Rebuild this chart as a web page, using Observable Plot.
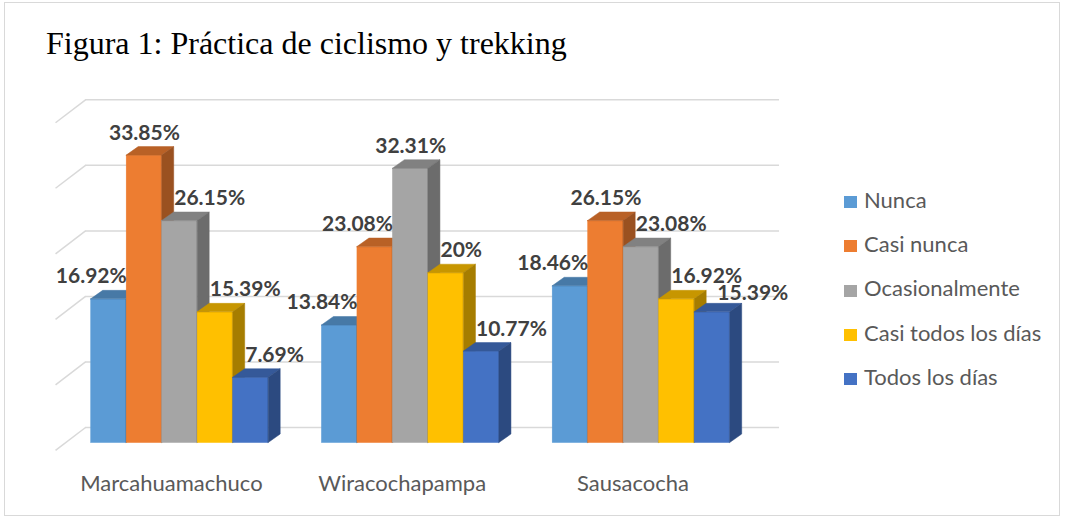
<!DOCTYPE html>
<html>
<head>
<meta charset="utf-8">
<script src="https://cdn.jsdelivr.net/npm/d3@7"></script>
<script src="https://cdn.jsdelivr.net/npm/@observablehq/plot@0.6"></script>
<style>
  body { margin: 0; background: #fff; }
  #chart { position: relative; width: 1067px; height: 517px; overflow: hidden; background: #fff; font-family: Lato, sans-serif; }
  #frame { position: absolute; left: 4px; top: 2px; width: 1056px; height: 514px; box-sizing: border-box; border: 1.5px solid #D9D9D9; }
  #title { position: absolute; left: 46px; top: 26.5px; font-family: "Liberation Serif", "Times New Roman", serif; font-size: 32px; line-height: 32px; color: #000; white-space: nowrap; }
  .layer { position: absolute; left: 0; top: 0; }
  .leg-sw { position: absolute; width: 13px; height: 12px; }
  .leg-tx { position: absolute; font-family: Lato, sans-serif; font-size: 22px; line-height: normal; color: #595959; white-space: nowrap; }
</style>
</head>
<body>
<div id="chart">
  <div id="frame"></div>
  <div id="title">Figura 1: Práctica de ciclismo y trekking</div>
</div>
<script>
// ---- data ----
const categories = ["Marcahuamachuco", "Wiracochapampa", "Sausacocha"];
const series = ["Nunca", "Casi nunca", "Ocasionalmente", "Casi todos los días", "Todos los días"];
const nunca = [16.92, 13.84, 18.46];
const casiNunca = [33.85, 23.08, 26.15];
const ocasionalmente = [26.15, 32.31, 23.08];
const casiTodosLosDias = [15.39, 20, 16.92];
const todosLosDias = [7.69, 10.77, 15.39];
const gridTicks = [0, 8, 16, 24, 32, 40];
const colors = ["#5B9BD5", "#ED7D31", "#A5A5A5", "#FFC000", "#4472C4"];

// ---- layout ----
const W = 1067, H = 517;
const seriesValues = [nunca, casiNunca, ocasionalmente, casiTodosLosDias, todosLosDias];
const GROUP_STEP = 6.5;          // group spacing in bar widths
const DEPTH_X = 12 / 35.5;       // 3D depth, in bar widths
const DEPTH_Y = 1.0;             // 3D depth, in value units
const WALL_LEFT = -0.16, WALL_RIGHT = 19.39, SIDE_LEFT = -1.005, SIDE_DROP = 2.8;
const xScale = {domain: [0, 20], range: [90.7, 800.7], axis: null};

const bars = categories.flatMap((cat, g) =>
  seriesValues.map((vals, i) => ({cat, g, i, series: series[i], value: vals[g], u: g * GROUP_STEP + i}))
);
// label alignment: keep labels clear of taller neighbouring bars
bars.forEach(b => {
  const left = bars.find(o => o.g === b.g && o.i === b.i - 1);
  const right = bars.find(o => o.g === b.g && o.i === b.i + 1);
  if (left && left.value > b.value + DEPTH_Y) {
    b.align = "start";
    b.crowded = left.value - b.value < 2.5;   // neighbour's label sits just above
  } else if (right && right.value > b.value + DEPTH_Y) b.align = "end";
  else b.align = "middle";
});

const tops = bars.flatMap(b => [
  {cat: b.cat, i: b.i, y: b.value, x1: b.u, x2: b.u + 1},
  {cat: b.cat, i: b.i, y: b.value + DEPTH_Y, x1: b.u + DEPTH_X, x2: b.u + 1 + DEPTH_X}
]);
const sides = bars.flatMap(b => [
  {cat: b.cat, i: b.i, x: b.u + 1, y1: 0, y2: b.value},
  {cat: b.cat, i: b.i, x: b.u + 1 + DEPTH_X, y1: DEPTH_Y, y2: b.value + DEPTH_Y}
]);

// ---- background (back & side walls) ----
const back = Plot.plot({
  width: W, height: H, margin: 0,
  style: {background: "transparent", overflow: "visible"},
  x: xScale,
  y: {domain: [0, 40], range: [427, 99.3], axis: null},
  marks: [
    Plot.ruleY(gridTicks, {y: d => d, x1: d => WALL_LEFT, x2: d => WALL_RIGHT, stroke: "#D9D9D9", strokeWidth: 1.5}),
    Plot.link(gridTicks, {x1: d => WALL_LEFT, y1: d => d, x2: d => SIDE_LEFT, y2: d => d - SIDE_DROP, stroke: "#D9D9D9", strokeWidth: 1.5})
  ]
});

// ---- bars ----
const barMarks = [];
series.forEach((s, i) => {
  const c = colors[i];
  const topC = d3.color(c).darker(0.7).formatHex();
  const sideC = d3.color(c).darker(1.2).formatHex();
  barMarks.push(
    Plot.rect(bars.filter(b => b.i === i), {x1: d => d.u, x2: d => d.u + 1, y1: d => 0, y2: "value", fill: c, stroke: c, strokeWidth: 0.5}),
    Plot.areaX(tops.filter(t => t.i === i), {y: "y", x1: "x1", x2: "x2", z: "cat", fill: topC, stroke: topC, strokeWidth: 0.5}),
    Plot.areaY(sides.filter(t => t.i === i), {x: "x", y1: "y1", y2: "y2", z: "cat", fill: sideC, stroke: sideC, strokeWidth: 0.5})
  );
});

const labelStyle = {y: "value", dy: -16, lineAnchor: "bottom", text: d => `${d.value}%`,
  fontFamily: "Lato", fontWeight: "bold", fontSize: 21, fill: "#404040"};

const front = Plot.plot({
  width: W, height: H, margin: 0,
  style: {background: "transparent", overflow: "visible"},
  x: xScale,
  y: {domain: [0, 40], range: [442.5, 102.9], axis: null},
  marks: [
    ...barMarks,
    Plot.text(bars.filter(b => b.align === "middle"), {...labelStyle, x: d => d.u + 0.5, textAnchor: "middle"}),
    Plot.text(bars.filter(b => b.align === "start" && !b.crowded), {...labelStyle, x: d => d.u + DEPTH_X, textAnchor: "start"}),
    Plot.text(bars.filter(b => b.align === "start" && b.crowded), {...labelStyle, x: d => d.u + DEPTH_X + 0.3, dy: -12.5, textAnchor: "start"}),
    Plot.text(bars.filter(b => b.align === "end"), {...labelStyle, x: d => d.u + 1, textAnchor: "end"}),
    Plot.text(categories, {x: (d, g) => g * GROUP_STEP + 2.5, y: d => 0, text: d => d, dy: 47.5, dx: -8.5,
      lineAnchor: "bottom", textAnchor: "middle", fontFamily: "Lato", fontSize: 22, fill: "#595959"})
  ]
});

const chart = document.getElementById("chart");
back.classList.add("layer");
front.classList.add("layer");
chart.appendChild(back);
chart.appendChild(front);

// ---- legend ----
series.forEach((s, i) => {
  const sw = document.createElement("div");
  sw.className = "leg-sw";
  sw.style.left = "844px";
  sw.style.top = (196 + 44.3 * i) + "px";
  sw.style.background = colors[i];
  chart.appendChild(sw);
  const tx = document.createElement("div");
  tx.className = "leg-tx";
  tx.style.left = "864px";
  tx.style.top = (207.3 + 44.3 * i - 21.7) + "px";
  tx.textContent = s;
  chart.appendChild(tx);
});
</script>
</body>
</html>
